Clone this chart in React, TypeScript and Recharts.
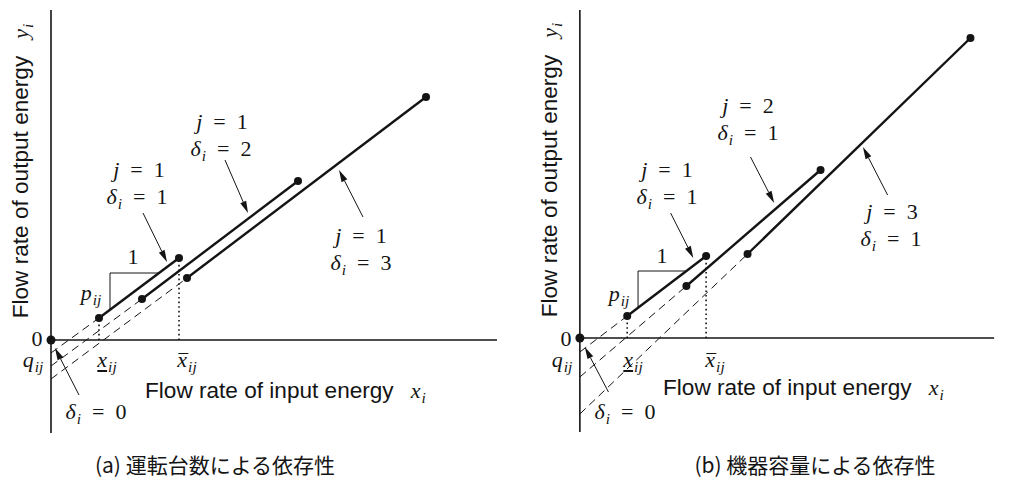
import React from "react";
import { ComposedChart, Line, XAxis, YAxis, ReferenceLine, ReferenceDot } from "recharts";

// Units are measured from each panel's origin (x right, y up).
// (a) 運転台数による依存性
const aSeg1 = [{ x: 48, y: 22 }, { x: 128, y: 82 }]; // j=1, δ=1
const aSeg2 = [{ x: 91, y: 41 }, { x: 247, y: 159 }]; // j=1, δ=2
const aSeg3 = [{ x: 136, y: 62 }, { x: 375, y: 243 }]; // j=1, δ=3
const aDash1 = [{ x: 0, y: -13 }, { x: 48, y: 22 }];
const aDash2 = [{ x: 0, y: -26 }, { x: 91, y: 41 }];
const aDash3 = [{ x: 0, y: -39 }, { x: 136, y: 62 }];
const aDotLo = [{ x: 48, y: 0 }, { x: 48, y: 22 }];
const aDotHi = [{ x: 128, y: 0 }, { x: 128, y: 82 }];
const aSlope = [{ x: 59, y: 30 }, { x: 59, y: 67 }, { x: 107, y: 67 }];

// (b) 機器容量による依存性
const bSeg1 = [{ x: 48, y: 22 }, { x: 128, y: 82 }]; // j=1
const bSeg2 = [{ x: 108, y: 52 }, { x: 244, y: 168 }]; // j=2
const bSeg3 = [{ x: 170, y: 84 }, { x: 396, y: 300 }]; // j=3
const bDash1 = [{ x: 0, y: -14 }, { x: 48, y: 22 }];
const bDash2 = [{ x: 0, y: -39 }, { x: 108, y: 52 }];
const bDash3 = [{ x: 0, y: -76 }, { x: 170, y: 84 }];
const bDotLo = [{ x: 48, y: 0 }, { x: 48, y: 22 }];
const bDotHi = [{ x: 128, y: 0 }, { x: 128, y: 82 }];
const bSlope = [{ x: 59, y: 30 }, { x: 59, y: 67 }, { x: 107, y: 67 }];

// annotation arrows: [from, tip]
const aArrows = [
  [{ x: 92, y: 127 }, { x: 116, y: 78 }],
  [{ x: 174, y: 180 }, { x: 197, y: 127 }],
  [{ x: 312, y: 123 }, { x: 288, y: 170 }],
  [{ x: 28, y: -55 }, { x: 4, y: -8 }],
];
const bArrows = [
  [{ x: 92, y: 125 }, { x: 115, y: 80 }],
  [{ x: 173, y: 181 }, { x: 197, y: 135 }],
  [{ x: 312, y: 143 }, { x: 287, y: 191 }],
  [{ x: 29, y: -54 }, { x: 5, y: -9 }],
];

const INK = "#141414";
const mathFont = "'Liberation Serif', 'DejaVu Serif', serif";
const sansFont = "'Liberation Sans', Arial, sans-serif";

const Arrow = (p: any) => {
  const { x1, y1, x2, y2 } = p;
  const a = Math.atan2(y2 - y1, x2 - x1);
  const L = 12;
  const w = 3.2;
  const bx = x2 - L * Math.cos(a);
  const by = y2 - L * Math.sin(a);
  const px = -Math.sin(a) * w;
  const py = Math.cos(a) * w;
  return (
    <g>
      <line x1={x1} y1={y1} x2={bx} y2={by} stroke={INK} strokeWidth={1} />
      <polygon points={`${x2},${y2} ${bx + px},${by + py} ${bx - px},${by - py}`} fill={INK} />
    </g>
  );
};

const dotStyle = { r: 4, fill: INK, stroke: INK, strokeWidth: 0 };

function Panel(props: any) {
  const { segs, dashes, dotted, slope, arrows, xMax, yMin, yMax, margin, width } = props;
  return (
    <ComposedChart width={width} height={480} margin={margin}>
      <XAxis type="number" dataKey="x" domain={[-10, xMax + 10]} allowDataOverflow hide />
      <YAxis type="number" dataKey="y" domain={[-100, yMax + 10]} allowDataOverflow hide />
      <ReferenceLine segment={[{ x: 0, y: yMin }, { x: 0, y: yMax }]} stroke={INK} strokeWidth={1.6} />
      <ReferenceLine segment={[{ x: 0, y: 0 }, { x: xMax, y: 0 }]} stroke={INK} strokeWidth={1.6} />
      {dashes.map((d: any, i: number) => (
        <Line key={"d" + i} data={d} dataKey="y" stroke={INK} strokeWidth={1} strokeDasharray="8 5" dot={false} activeDot={false} isAnimationActive={false} />
      ))}
      {dotted.map((d: any, i: number) => (
        <Line key={"v" + i} data={d} dataKey="y" stroke={INK} strokeWidth={1.6} strokeDasharray="1.6 3" dot={false} activeDot={false} isAnimationActive={false} />
      ))}
      <Line data={slope} dataKey="y" stroke={INK} strokeWidth={1} dot={false} activeDot={false} isAnimationActive={false} />
      {segs.map((d: any, i: number) => (
        <Line key={"s" + i} data={d} dataKey="y" stroke={INK} strokeWidth={2.4} dot={dotStyle} activeDot={false} isAnimationActive={false} />
      ))}
      {arrows.map((a: any, i: number) => (
        <ReferenceLine key={"a" + i} segment={a} shape={Arrow} />
      ))}
      <ReferenceDot x={0} y={0} r={4.5} fill={INK} stroke="none" />
    </ComposedChart>
  );
}

const Sub = ({ children }: any) => (
  <span style={{ fontSize: "0.7em", position: "relative", top: "0.3em", marginLeft: 1 }}>{children}</span>
);
const I = ({ children }: any) => <span style={{ fontStyle: "italic" }}>{children}</span>;

const Txt = ({ x, y, children, size = 22, font = mathFont }: any) => (
  <div
    style={{
      position: "absolute",
      left: x,
      top: y,
      transform: "translate(-50%, -50%)",
      whiteSpace: "nowrap",
      fontFamily: font,
      fontSize: size,
      lineHeight: 1,
      color: INK,
    }}
  >
    {children}
  </div>
);

const eq = "\u2002=\u2002";
const JEq = ({ j }: any) => (
  <span>
    <I>j</I>
    {eq}
    {j}
  </span>
);
const DEq = ({ d }: any) => (
  <span>
    <I>δ</I>
    <Sub><I>i</I></Sub>
    {eq}
    {d}
  </span>
);
const Pij = () => (<span><I>p</I><Sub><I>ij</I></Sub></span>);
const Qij = () => (<span><I>q</I><Sub><I>ij</I></Sub></span>);
const XLo = () => (
  <span>
    <span style={{ fontStyle: "italic", textDecoration: "underline", textUnderlineOffset: 3 }}>x</span>
    <Sub><I>ij</I></Sub>
  </span>
);
const XHi = () => (
  <span>
    <span style={{ fontStyle: "italic", position: "relative" }}>
      x
      <span style={{ position: "absolute", left: 1, right: -1, top: "0.28em", borderTop: "1px solid " + INK }} />
    </span>
    <Sub><I>ij</I></Sub>
  </span>
);

const AxisX = ({ x, y }: any) => (
  <div style={{ position: "absolute", left: x, top: y, transform: "translateY(-50%)", whiteSpace: "nowrap", fontFamily: sansFont, fontSize: 22.6, lineHeight: 1, color: INK }}>
    Flow rate of input energy
    <span style={{ fontFamily: mathFont, fontSize: 22, marginLeft: 17 }}><I>x</I><Sub><I>i</I></Sub></span>
  </div>
);
const AxisY = ({ x, y }: any) => (
  <div style={{ position: "absolute", left: x, top: y, transform: "translate(-50%, -50%) rotate(-90deg)", whiteSpace: "nowrap", fontFamily: sansFont, fontSize: 22.6, lineHeight: 1, color: INK }}>
    Flow rate of output energy
    <span style={{ fontFamily: mathFont, fontSize: 22, marginLeft: 17 }}><I>y</I><Sub><I>i</I></Sub></span>
  </div>
);

export default function App() {
  return (
    <div style={{ position: "fixed", left: 0, top: 0, width: 1014, height: 480, background: "#fff", overflow: "hidden" }}>
      <div style={{ position: "absolute", left: 0, top: 0 }}>
        <Panel
          width={507}
          margin={{ top: 0, left: 41, right: 0, bottom: 40 }}
          segs={[aSeg1, aSeg2, aSeg3]}
          dashes={[aDash1, aDash2, aDash3]}
          dotted={[aDotLo, aDotHi]}
          slope={aSlope}
          arrows={aArrows}
          xMax={446}
          yMin={-93}
          yMax={330}
        />
      </div>
      <div style={{ position: "absolute", left: 507, top: 0 }}>
        <Panel
          width={507}
          margin={{ top: 0, left: 63, right: 10, bottom: 42 }}
          segs={[bSeg1, bSeg2, bSeg3]}
          dashes={[bDash1, bDash2, bDash3]}
          dotted={[bDotLo, bDotHi]}
          slope={bSlope}
          arrows={bArrows}
          xMax={420}
          yMin={-94}
          yMax={328}
        />
      </div>

      {/* panel (a) labels */}
      <AxisY x={21} y={171} />
      <AxisX x={145} y={391} />
      <Txt x={139} y={170}><JEq j="1" /></Txt>
      <Txt x={137} y={197}><DEq d="1" /></Txt>
      <Txt x={222} y={122}><JEq j="1" /></Txt>
      <Txt x={221} y={149}><DEq d="2" /></Txt>
      <Txt x={361} y={236}><JEq j="1" /></Txt>
      <Txt x={361} y={263}><DEq d="3" /></Txt>
      <Txt x={133} y={257}>1</Txt>
      <Txt x={91} y={293}><Pij /></Txt>
      <Txt x={37} y={339}>0</Txt>
      <Txt x={33} y={360}><Qij /></Txt>
      <Txt x={107} y={360}><XLo /></Txt>
      <Txt x={187} y={360}><XHi /></Txt>
      <Txt x={96} y={412}><DEq d="0" /></Txt>

      {/* panel (b) labels */}
      <AxisY x={550} y={170} />
      <AxisX x={663} y={388} />
      <Txt x={667} y={170}><JEq j="1" /></Txt>
      <Txt x={667} y={197}><DEq d="1" /></Txt>
      <Txt x={748} y={106}><JEq j="2" /></Txt>
      <Txt x={748} y={133}><DEq d="1" /></Txt>
      <Txt x={892} y={212}><JEq j="3" /></Txt>
      <Txt x={891} y={239}><DEq d="1" /></Txt>
      <Txt x={662} y={256}>1</Txt>
      <Txt x={619} y={294}><Pij /></Txt>
      <Txt x={566} y={339}>0</Txt>
      <Txt x={562} y={360}><Qij /></Txt>
      <Txt x={633} y={360}><XLo /></Txt>
      <Txt x={715} y={360}><XHi /></Txt>
      <Txt x={625} y={412}><DEq d="0" /></Txt>

      {/* captions */}
      <Txt x={215} y={464} size={21} font="'Noto Sans CJK JP', sans-serif">(a) 運転台数による依存性</Txt>
      <Txt x={815} y={464} size={21} font="'Noto Sans CJK JP', sans-serif">(b) 機器容量による依存性</Txt>
    </div>
  );
}
